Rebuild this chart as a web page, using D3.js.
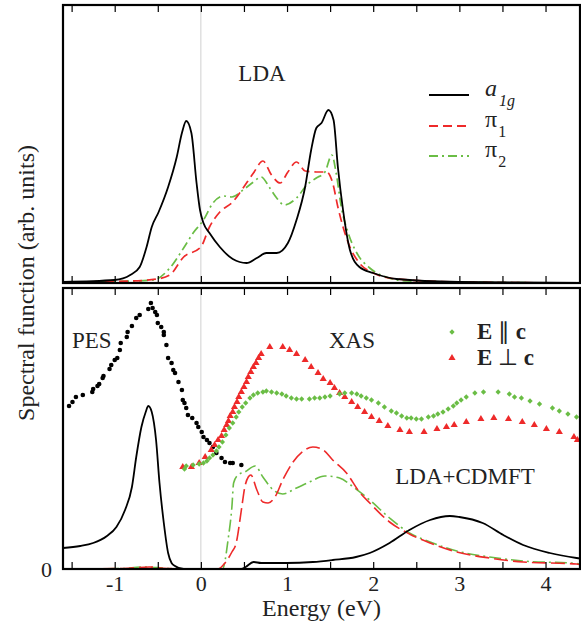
<!DOCTYPE html>
<html>
<head>
<meta charset="utf-8">
<script src="https://cdn.jsdelivr.net/npm/d3@7"></script>
<style>
  body { margin: 0; background: #fff; }
  text { font-family: "Liberation Serif", "Times New Roman", serif; fill: #222; }
</style>
</head>
<body>
<svg id="chart" width="581" height="627"></svg>
<script>
// Energy range and tick marks
const energyDomain = [-1.6, 4.4];
const energyTicks = [-1.5, -1, -0.5, 0, 0.5, 1, 1.5, 2, 2.5, 3, 3.5, 4];

// Top panel (LDA) - [energy, spectral weight]
const ldaA1g = [[-1.6,0.1],[-1.0,0.3],[-0.82,0.8],[-0.71,1.6],[-0.63,3.6],[-0.57,5.6],[-0.49,7.1],[-0.38,9.6],[-0.28,12.6],[-0.22,15.0],[-0.17,16.2],[-0.11,15.0],[-0.05,10.0],[-0.01,7.3],[0.03,6.0],[0.10,5.0],[0.22,3.6],[0.37,2.4],[0.53,2.0],[0.65,2.5],[0.76,3.0],[0.88,3.0],[1.01,4.0],[1.11,6.3],[1.21,9.6],[1.28,13.3],[1.34,15.5],[1.40,16.0],[1.48,17.3],[1.54,16.3],[1.59,11.6],[1.65,7.3],[1.73,3.3],[1.84,1.6],[2.0,1.0],[2.27,0.4],[3.0,0.1],[4.4,0.0]];
const ldaPi1 = [[-1.6,0.1],[-0.8,0.2],[-0.51,0.4],[-0.36,0.8],[-0.2,2.6],[0.0,3.6],[0.1,5.6],[0.22,7.1],[0.37,8.1],[0.49,9.5],[0.61,11.0],[0.72,12.2],[0.82,10.8],[0.92,10.0],[1.01,11.1],[1.11,12.1],[1.21,11.2],[1.34,11.1],[1.46,11.1],[1.53,10.0],[1.59,7.6],[1.65,5.6],[1.73,3.6],[1.84,2.0],[2.0,1.0],[2.27,0.4],[3.0,0.1],[4.4,0.0]];
const ldaPi2 = [[-1.6,0.1],[-0.8,0.2],[-0.55,0.3],[-0.36,1.5],[-0.2,3.5],[-0.09,5.0],[0.03,6.3],[0.14,8.0],[0.26,8.7],[0.36,8.6],[0.49,9.3],[0.61,10.1],[0.70,10.6],[0.80,9.5],[0.88,8.5],[0.97,7.8],[1.11,8.5],[1.23,9.8],[1.34,10.5],[1.44,11.1],[1.52,12.8],[1.57,11.0],[1.63,7.6],[1.71,5.0],[1.81,3.0],[1.96,1.5],[2.15,0.6],[2.39,0.2],[3.0,0.1],[4.4,0.0]];

// Bottom panel (LDA+CDMFT)
const dmftA1g = [[-1.6,2.1],[-1.4,2.3],[-1.25,2.6],[-1.09,3.3],[-0.98,4.2],[-0.88,5.9],[-0.80,8.2],[-0.75,11.2],[-0.69,14.2],[-0.64,15.7],[-0.61,16.3],[-0.57,15.7],[-0.52,12.9],[-0.48,8.6],[-0.43,4.6],[-0.38,1.6],[-0.34,0.6],[-0.30,0.3],[-0.2,0.0],[0.47,0.0],[0.52,0.2],[0.61,0.7],[0.7,0.6],[0.99,0.6],[1.3,0.7],[1.53,0.9],[1.8,1.2],[1.96,1.6],[2.19,2.6],[2.42,3.9],[2.66,4.9],[2.89,5.3],[3.0,5.2],[3.27,4.6],[3.51,3.4],[3.74,2.4],[4.05,1.6],[4.36,1.1],[4.4,1.05]];
const dmftPi1 = [[-1.6,0.0],[-0.9,0.05],[-0.6,0.2],[-0.4,0.05],[0.2,0.0],[0.28,0.6],[0.36,1.7],[0.41,2.6],[0.47,5.9],[0.51,8.2],[0.55,9.2],[0.58,9.4],[0.65,7.9],[0.72,6.7],[0.78,6.6],[0.86,7.2],[0.95,8.9],[1.07,10.7],[1.19,11.8],[1.30,12.2],[1.42,11.9],[1.53,10.9],[1.69,9.6],[1.84,7.7],[1.96,6.6],[2.19,4.7],[2.42,3.5],[2.66,2.6],[2.97,1.7],[3.35,1.1],[3.74,0.7],[4.36,0.5],[4.4,0.45]];
const dmftPi2 = [[-1.6,0.0],[-0.9,0.05],[-0.7,0.2],[-0.5,0.15],[-0.3,0.0],[0.25,0.0],[0.32,3.2],[0.36,6.2],[0.38,8.6],[0.43,9.4],[0.51,9.7],[0.63,10.3],[0.72,9.2],[0.84,7.9],[0.95,7.5],[1.11,8.1],[1.26,8.7],[1.44,9.3],[1.61,9.1],[1.77,8.2],[1.96,6.9],[2.19,5.1],[2.42,3.6],[2.66,2.7],[2.97,1.8],[3.35,1.2],[3.74,0.8],[4.36,0.55],[4.4,0.5]];

// Experimental points
const pesPoints = [[-1.53,16.3],[-1.49,16.7],[-1.45,17.2],[-1.37,17.4],[-1.26,17.7],[-1.25,18.0],[-1.20,18.3],[-1.18,18.5],[-1.14,19.1],[-1.13,19.3],[-1.06,20.0],[-1.04,20.4],[-1.00,20.9],[-0.97,21.1],[-0.94,21.9],[-0.93,22.6],[-0.86,23.2],[-0.85,23.7],[-0.80,24.3],[-0.75,25.1],[-0.71,25.4],[-0.61,26.0],[-0.58,26.6],[-0.56,26.1],[-0.53,25.7],[-0.51,25.4],[-0.50,24.6],[-0.46,24.2],[-0.43,23.7],[-0.43,23.4],[-0.40,22.4],[-0.38,21.1],[-0.34,20.6],[-0.32,19.9],[-0.30,19.6],[-0.26,18.7],[-0.22,17.9],[-0.21,16.9],[-0.19,16.6],[-0.17,16.1],[-0.15,15.4],[-0.10,15.1],[-0.05,14.6],[-0.03,14.2],[0.01,13.7],[0.03,13.2],[0.07,12.9],[0.10,12.6],[0.14,12.2],[0.18,11.6],[0.24,11.1],[0.28,10.7],[0.34,10.6],[0.37,10.6],[0.47,10.4]];
const xasPar = [[-0.19,10.0],[-0.17,10.3],[-0.09,10.4],[-0.02,10.5],[0.03,10.6],[0.07,10.8],[0.10,11.1],[0.14,11.4],[0.18,11.8],[0.21,12.2],[0.25,12.7],[0.29,13.4],[0.33,14.1],[0.37,14.6],[0.41,15.2],[0.44,15.7],[0.48,16.2],[0.52,16.6],[0.57,17.1],[0.61,17.4],[0.66,17.6],[0.72,17.7],[0.76,17.8],[0.82,17.7],[0.88,17.6],[0.94,17.5],[0.99,17.3],[1.05,17.1],[1.11,17.0],[1.17,17.0],[1.26,17.0],[1.32,17.1],[1.38,17.1],[1.44,17.2],[1.50,17.3],[1.61,17.5],[1.67,17.6],[1.75,17.6],[1.81,17.5],[1.86,17.3],[1.92,17.1],[1.98,16.9],[2.06,16.6],[2.13,16.2],[2.21,15.8],[2.27,15.6],[2.33,15.3],[2.39,15.1],[2.44,15.1],[2.50,15.0],[2.56,15.0],[2.64,15.2],[2.70,15.3],[2.75,15.5],[2.81,15.7],[2.87,16.0],[2.93,16.3],[2.97,16.6],[3.02,16.9],[3.08,17.2],[3.18,17.6],[3.28,17.7],[3.45,17.7],[3.58,17.5],[3.64,17.2],[3.72,17.1],[3.82,16.8],[3.93,16.5],[4.08,16.1],[4.16,15.8],[4.26,15.5],[4.36,15.2]];
const xasPerp = [[-0.21,10.2],[-0.11,10.2],[-0.02,10.6],[0.05,11.2],[0.12,11.9],[0.16,12.4],[0.20,12.9],[0.24,13.3],[0.27,13.9],[0.30,14.4],[0.32,14.8],[0.34,15.3],[0.37,15.7],[0.39,16.2],[0.42,16.7],[0.44,17.2],[0.47,17.7],[0.50,18.2],[0.53,18.7],[0.55,19.2],[0.58,19.7],[0.61,20.2],[0.64,20.6],[0.67,21.1],[0.70,21.5],[0.80,22.2],[0.95,22.2],[1.03,21.9],[1.11,21.5],[1.21,20.9],[1.28,20.2],[1.36,19.6],[1.42,19.0],[1.50,18.6],[1.55,18.1],[1.61,17.6],[1.67,17.2],[1.75,16.7],[1.82,16.2],[1.90,15.7],[1.98,15.2],[2.07,14.8],[2.17,14.3],[2.31,13.9],[2.42,13.7],[2.59,13.7],[2.74,14.0],[2.85,14.2],[2.94,14.4],[3.08,14.7],[3.25,15.0],[3.40,15.1],[3.57,15.0],[3.73,14.7],[3.87,14.4],[4.01,14.0],[4.16,13.7],[4.33,13.2],[4.37,12.9]];

const RED = "#ee2a2a", GREEN = "#6abd45";

const svg = d3.select("#chart");
const left = 63, right = 580;
const topPanel = {top: 5, bottom: 283};
const botPanel = {top: 288, bottom: 569};

const x = d3.scaleLinear().domain(energyDomain).range([left, right]);
const yTop = d3.scaleLinear().domain([0, 27.8]).range([topPanel.bottom, topPanel.top]);
const yBot = d3.scaleLinear().domain([0, 28.1]).range([botPanel.bottom, botPanel.top]);

svg.append("defs").selectAll("clipPath")
  .data([["clipTop", topPanel], ["clipBot", botPanel]])
  .enter().append("clipPath").attr("id", d => d[0])
  .append("rect")
    .attr("x", left).attr("y", d => d[1].top)
    .attr("width", right - left).attr("height", d => d[1].bottom - d[1].top);

function drawPanel(p, y, clipId) {
    // zero-energy guide
    svg.append("line")
        .attr("x1", x(0)).attr("x2", x(0))
        .attr("y1", p.top).attr("y2", p.bottom)
        .attr("stroke", "#d0d0d0").attr("stroke-width", 1);

    svg.append("g")
        .attr("transform", "translate(0," + p.top + ")")
        .call(d3.axisTop(x).tickValues(energyTicks).tickSize(-7).tickFormat(() => ""))
        .call(g => g.select(".domain").remove())
        .selectAll("line").attr("stroke", "#000").attr("stroke-width", 1.2);

    return svg.append("g").attr("clip-path", "url(#" + clipId + ")");
}

function drawFrame(p) {
    svg.append("rect")
        .attr("x", left).attr("y", p.top)
        .attr("width", right - left).attr("height", p.bottom - p.top)
        .attr("fill", "none").attr("stroke", "#000").attr("stroke-width", 2.2);
}

function line(y) {
    return d3.line().x(d => x(d[0])).y(d => y(d[1])).curve(d3.curveMonotoneX);
}

// ---- top panel ----
const gTop = drawPanel(topPanel, yTop, "clipTop");
svg.append("g")
    .attr("transform", "translate(0," + topPanel.bottom + ")")
    .call(d3.axisBottom(x).tickValues(energyTicks).tickSize(-7).tickFormat(() => ""))
    .call(g => g.select(".domain").remove())
    .selectAll("line").attr("stroke", "#000").attr("stroke-width", 1.2);

gTop.append("path").datum(ldaPi2).attr("d", line(yTop))
    .attr("fill", "none").attr("stroke", GREEN).attr("stroke-width", 1.7).attr("stroke-dasharray", "9,4,2,4");
gTop.append("path").datum(ldaPi1).attr("d", line(yTop))
    .attr("fill", "none").attr("stroke", RED).attr("stroke-width", 1.7).attr("stroke-dasharray", "9,5");
gTop.append("path").datum(ldaA1g).attr("d", line(yTop))
    .attr("fill", "none").attr("stroke", "#000").attr("stroke-width", 1.8);
drawFrame(topPanel);

svg.append("text").attr("x", 262).attr("y", 81).attr("text-anchor", "middle")
    .attr("font-size", 23).text("LDA");

// top legend
const legendTop = [
    {sym: "a", sub: "1g", italic: true, color: "#000", dash: null, y: 95},
    {sym: "\u03c0", sub: "1", italic: false, color: RED, dash: "9,5", y: 126},
    {sym: "\u03c0", sub: "2", italic: false, color: GREEN, dash: "9,4,2,4", y: 156}
];
legendTop.forEach(d => {
    svg.append("line").attr("x1", 429).attr("x2", 469).attr("y1", d.y).attr("y2", d.y)
        .attr("stroke", d.color).attr("stroke-width", 1.8)
        .attr("stroke-dasharray", d.dash);
    const t = svg.append("text").attr("x", 485).attr("y", d.y + 1).attr("font-size", 24);
    t.append("tspan").attr("font-style", d.italic ? "italic" : "normal").text(d.sym);
    t.append("tspan").attr("dy", 10).attr("dx", d.italic ? 2 : 1).attr("font-size", 16)
        .attr("font-style", d.italic ? "italic" : "normal").text(d.sub);
});

// ---- bottom panel ----
const gBot = drawPanel(botPanel, yBot, "clipBot");
svg.append("g")
    .attr("transform", "translate(0," + botPanel.bottom + ")")
    .call(d3.axisBottom(x).tickValues(energyTicks).tickSize(-7).tickPadding(6)
        .tickFormat(d => Number.isInteger(d) ? String(d) : ""))
    .call(g => g.select(".domain").remove())
    .call(g => g.selectAll("line").attr("stroke", "#000").attr("stroke-width", 1.2))
    .call(g => g.selectAll("text").attr("font-size", 22).attr("fill", "#222")
        .style("font-family", "'Liberation Serif', serif"));

svg.append("g")
    .attr("transform", "translate(" + left + ",0)")
    .call(d3.axisLeft(yBot).tickValues([0]).tickSize(0).tickPadding(11).tickFormat(d3.format("d")))
    .call(g => g.select(".domain").remove())
    .call(g => g.selectAll("text").attr("font-size", 22).attr("fill", "#222")
        .style("font-family", "'Liberation Serif', serif"));

gBot.append("path").datum(dmftPi2).attr("d", line(yBot))
    .attr("fill", "none").attr("stroke", GREEN).attr("stroke-width", 1.6).attr("stroke-dasharray", "12,4,2,4");
gBot.append("path").datum(dmftPi1).attr("d", line(yBot))
    .attr("fill", "none").attr("stroke", RED).attr("stroke-width", 1.6).attr("stroke-dasharray", "14,5");
gBot.append("path").datum(dmftA1g).attr("d", line(yBot))
    .attr("fill", "none").attr("stroke", "#000").attr("stroke-width", 1.8);

gBot.selectAll(".pes").data(pesPoints).enter().append("circle")
    .attr("cx", d => x(d[0])).attr("cy", d => yBot(d[1])).attr("r", 2.3).attr("fill", "#000");

const diamond = d3.symbol().type(d3.symbolSquare).size(14);
const triangle = d3.symbol().type(d3.symbolTriangle).size(22);

gBot.selectAll(".perp").data(xasPerp).enter().append("path")
    .attr("transform", d => "translate(" + x(d[0]) + "," + yBot(d[1]) + ")")
    .attr("d", triangle).attr("fill", RED);
gBot.selectAll(".par").data(xasPar).enter().append("path")
    .attr("transform", d => "translate(" + x(d[0]) + "," + yBot(d[1]) + ") rotate(45)")
    .attr("d", diamond).attr("fill", GREEN);
drawFrame(botPanel);

svg.append("text").attr("x", 72).attr("y", 348).attr("font-size", 23).text("PES");
svg.append("text").attr("x", 352).attr("y", 348).attr("text-anchor", "middle").attr("font-size", 23).text("XAS");
svg.append("text").attr("x", 465).attr("y", 484).attr("text-anchor", "middle").attr("font-size", 23).text("LDA+CDMFT");

// bottom legend
svg.append("path").attr("transform", "translate(452,332) rotate(45)").attr("d", diamond).attr("fill", GREEN);
svg.append("path").attr("transform", "translate(452,358)").attr("d", triangle).attr("fill", RED);
[["\u2225", 339], ["\u22a5", 365]].forEach(([s, yy]) => {
    const t = svg.append("text").attr("x", 477).attr("y", yy).attr("font-size", 23);
    t.append("tspan").attr("font-weight", "bold").text("E ");
    t.append("tspan").text(s);
    t.append("tspan").attr("font-weight", "bold").text(" c");
});

// axis titles
svg.append("text").attr("x", (left + right) / 2).attr("y", 616).attr("text-anchor", "middle")
    .attr("font-size", 24).text("Energy (eV)");
svg.append("text").attr("transform", "translate(34,283) rotate(-90)").attr("text-anchor", "middle")
    .attr("font-size", 24).text("Spectral function (arb. units)");
</script>
</body>
</html>
